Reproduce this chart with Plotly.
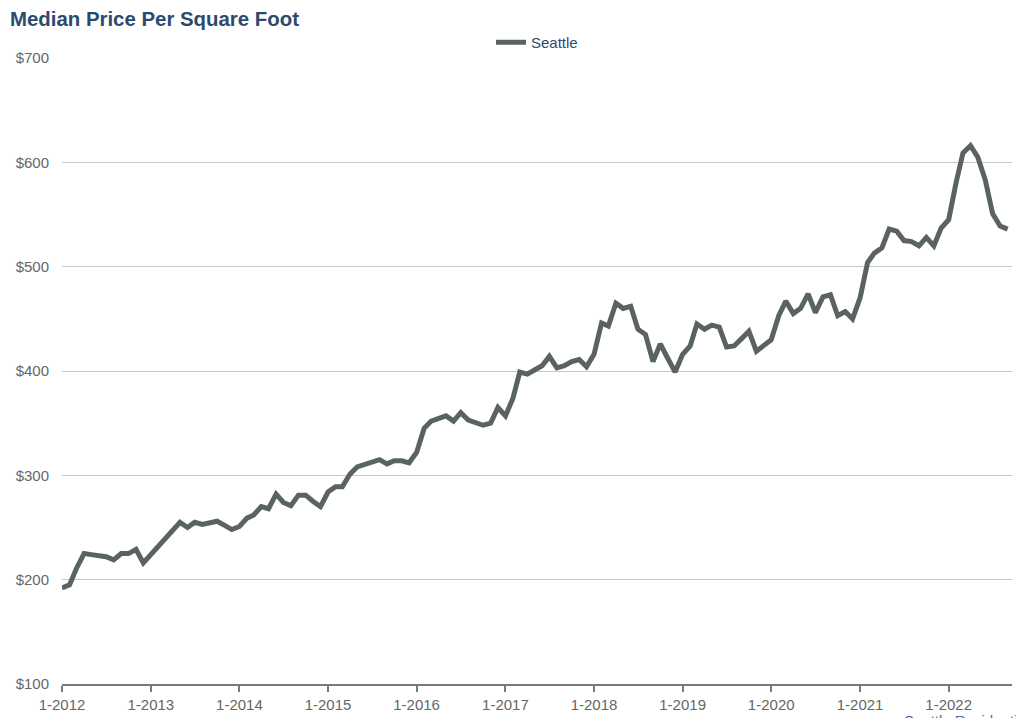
import plotly.graph_objects as go
import pandas as pd

# Monthly dates Jan 2012 .. Sep 2022
months = pd.date_range("2012-01-01", "2022-09-01", freq="MS")

seattle = [
    192, 195, 211, 225, 224, 223, 222, 219, 225, 225, 229, 216,   # 2012
    224, 232, 241, 249, 255, 250, 255, 253, 254, 256, 252, 248,   # 2013
    251, 259, 262, 270, 268, 282, 274, 271, 281, 281, 275, 270,   # 2014
    284, 289, 289, 301, 308, 310, 312, 315, 311, 314, 314, 312,   # 2015
    322, 345, 352, 354, 357, 352, 360, 353, 350, 348, 350, 365,   # 2016
    357, 374, 399, 397, 401, 405, 414, 403, 405, 409, 411, 404,   # 2017
    416, 446, 443, 465, 460, 462, 440, 435, 409, 426, 412, 399,   # 2018
    416, 424, 445, 440, 444, 442, 423, 424, 431, 438, 419, 425,   # 2019
    430, 453, 467, 455, 460, 474, 456, 471, 473, 453, 457, 450,   # 2020
    470, 504, 513, 518, 536, 534, 525, 524, 520, 528, 520, 537,   # 2021
    545, 581, 609, 616, 605, 583, 551, 539, 536,                  # 2022
]

series_name = "Seattle"
title_text = "Median Price Per Square Foot"
credit_text = "Seattle Residential"

fig = go.Figure()
fig.add_trace(go.Scatter(
    x=months,
    y=seattle,
    mode="lines",
    name=series_name,
    line=dict(color="#5a6361", width=5),
))

# The page body has an 8px default margin, so the figure is laid out
# in coordinates offset by 8px from the window.
W, H = 1016, 710
m_l, m_r, m_t, m_b = 54, 12, 49.5, 34
plot_h = H - m_t - m_b

fig.update_layout(
    width=W, height=H,
    margin=dict(l=m_l, r=m_r, t=m_t, b=m_b, pad=0, autoexpand=False),
    paper_bgcolor="white",
    plot_bgcolor="white",
    font=dict(family="Liberation Sans, Arial, sans-serif", size=15, color="#666666"),
    title=dict(
        text="<b>" + title_text + "</b>",
        x=2 / W, xref="container", xanchor="left",
        y=(H - 11) / H, yref="container", yanchor="middle",
        font=dict(size=20.4, color="#2c4a6e", family="Liberation Sans, Arial, sans-serif"),
    ),
    showlegend=True,
    legend=dict(
        orientation="h",
        x=0.5, xanchor="center",
        y=(H - m_b - 34) / plot_h, yanchor="middle",
        font=dict(size=15, color="#2c4a6e"),
        bgcolor="rgba(0,0,0,0)",
        itemwidth=30,
    ),
    xaxis=dict(
        type="date",
        range=["2012-01-01", "2022-09-19"],
        tick0="2012-01-01",
        dtick="M12",
        tickformat="%-m-%Y",
        showgrid=False,
        showline=True,
        linecolor="#7a7a7a",
        linewidth=2,
        ticks="outside",
        ticklen=6,
        tickwidth=2,
        tickcolor="#7a7a7a",
        tickfont=dict(size=15, color="#666666"),
        zeroline=False,
        automargin=False,
        fixedrange=True,
    ),
    yaxis=dict(
        range=[100, 700],
        dtick=100,
        tick0=100,
        tickprefix="$",
        showgrid=True,
        gridcolor="#c8c8c8",
        gridwidth=1,
        zeroline=False,
        showline=False,
        ticks="",
        ticklabelstandoff=12,
        tickfont=dict(size=15, color="#666666"),
        automargin=False,
        fixedrange=True,
    ),
    annotations=[
        dict(
            text=credit_text,
            xref="paper", yref="paper",
            x=(894 - m_l) / (W - m_l - m_r), xanchor="left",
            y=(H - m_b - 702) / plot_h, yanchor="top",
            showarrow=False,
            font=dict(size=15, color="#3a6ea5"),
        )
    ],
)

fig.write_html("out.html")
